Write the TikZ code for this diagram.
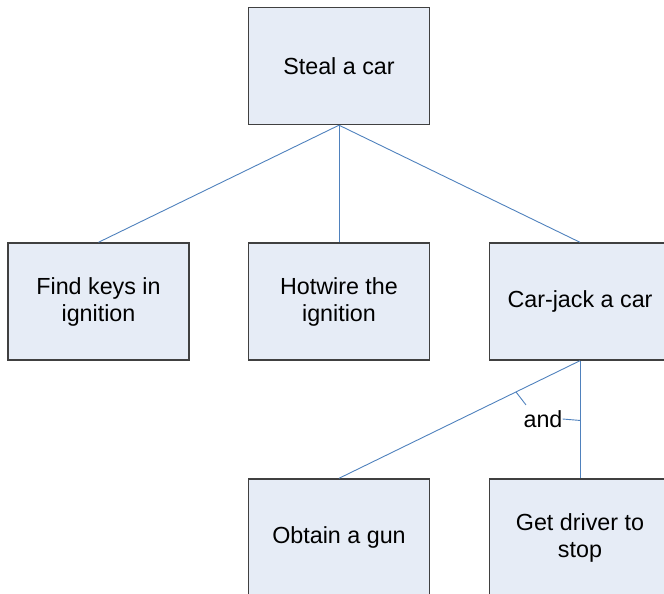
\documentclass[tikz,border=0pt]{standalone}
\usepackage{fontspec}
\setmainfont{Liberation Sans}
\usetikzlibrary{calc}
\definecolor{boxfill}{HTML}{E6ECF6}
\definecolor{boxline}{HTML}{404040}
\definecolor{linkblue}{HTML}{4F81BD}
\begin{document}
\begin{tikzpicture}[x=1pt,y=-1pt,
  goal/.style={draw=boxline,line width=1.4pt,fill=boxfill,minimum width=181pt,minimum height=117pt,inner sep=0pt,align=center,font=\fontsize{23.3}{27}\selectfont},
  link/.style={draw=linkblue,line width=0.9pt}]
\useasboundingbox (0,0) rectangle (664,594);
\node[goal] (top) at (339,66) {Steal a car};
\node[goal] (keys) at (98.5,301.5) {Find keys in\\ignition};
\node[goal] (hot) at (339,301.5) {Hotwire the\\ignition};
\node[goal] (cj) at (580,301.5) {Car-jack a car};
\node[goal] (gun) at (339,537.5) {Obtain a gun};
\node[goal] (stop) at (580,537.5) {Get driver to\\stop};
\draw[link] (top.south) -- (keys.north);
\draw[link] (top.south) -- (hot.north);
\draw[link] (top.south) -- (cj.north);
\draw[link] (cj.south) -- (gun.north);
\draw[link] (cj.south) -- (stop.north);
\coordinate (t1) at ($(cj.south)!0.2656!(gun.north)$);
\coordinate (t1e) at ($(t1)+(10,13)$);
\draw[link] (t1) -- (t1e);
\coordinate (t2) at ($(cj.south)!0.508!(stop.north)$);
\node[font=\fontsize{23.3}{27}\selectfont,inner sep=0pt] (and) at (543,419) {and};
\draw[link] (and.east) -- (t2);
\end{tikzpicture}
\end{document}
